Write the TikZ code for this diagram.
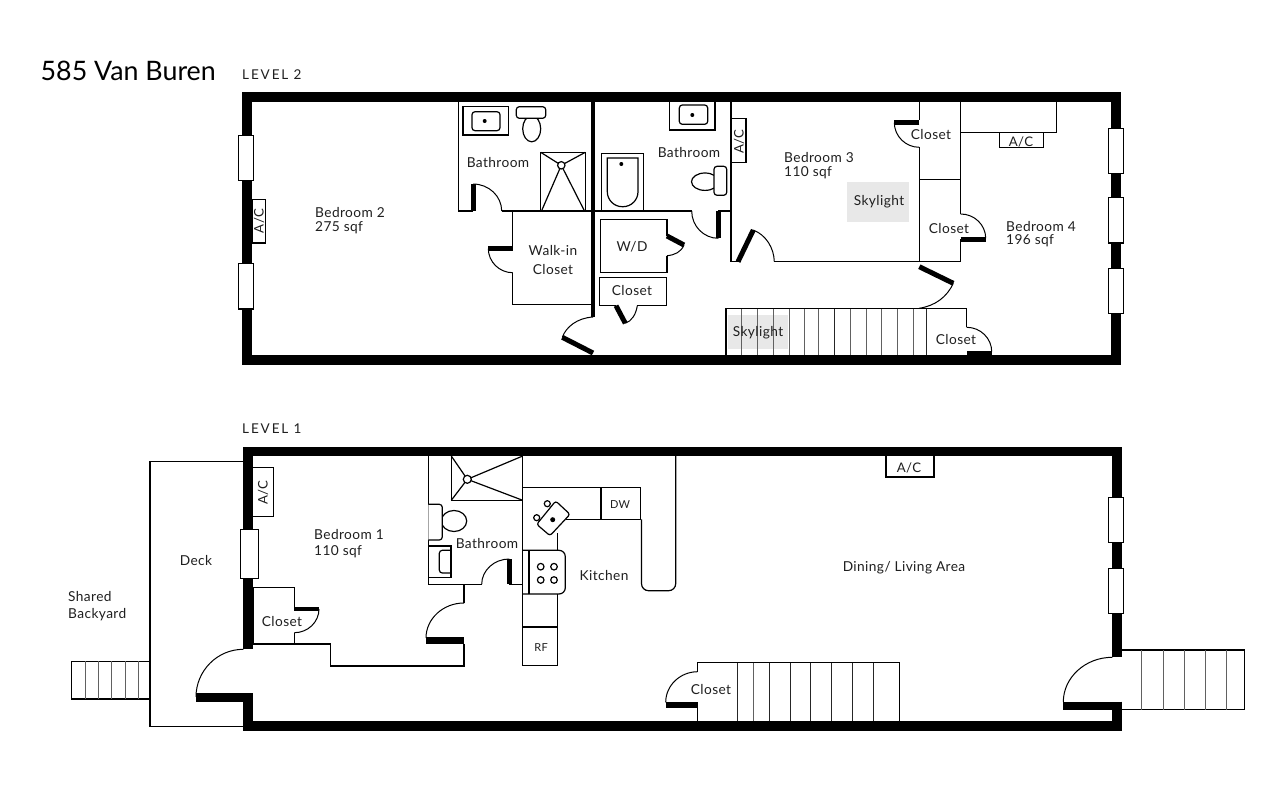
\documentclass[tikz,border=0pt]{standalone}
\usepackage{fontspec}
\setmainfont{Lato}
\newfontfamily\spaced[LetterSpace=14]{Lato}
\newfontfamily\lab[LetterSpace=3]{Lato}
\newcommand{\qarc}[6]{(#1,#2) .. controls ({#1+0.55*(#3-#5)},{#2+0.55*(#4-#6)}) and ({#3+0.55*(#1-#5)},{#4+0.55*(#2-#6)}) .. (#3,#4)}
\tikzset{
 wall/.style={line width=9.5pt,line join=miter,line cap=butt},
 thin/.style={line width=1.2pt,line join=miter,black},
 leaf/.style={line width=5pt},
 swing/.style={line width=1pt},
 tread/.style={line width=1pt,draw=black!62},
 treaddark/.style={line width=1pt,draw=black!85},
 win/.style={line width=1.1pt,fill=white,draw=black},
 sky/.style={fill=black!9,draw=none},
 lbl/.style={font=\lab\fontsize{13.7}{15}\selectfont,inner sep=0pt,text=black!88,yshift=-1pt},
 lblL/.style={lbl,anchor=west},
 small/.style={font=\lab\fontsize{11}{12}\selectfont,inner sep=0pt,text=black!88,yshift=-1pt},
 ac/.style={font=\lab\fontsize{13.2}{14}\selectfont,inner sep=0pt,text=black!88},
 lvl/.style={font=\spaced\fontsize{13.5}{14}\selectfont,inner sep=0pt,anchor=west,text=black!88}
}
\begin{document}
\begin{tikzpicture}[x=1pt,y=-1pt]
\useasboundingbox (0,0) rectangle (1261,800);
\fill[white] (0,0) rectangle (1261,800);
%% texts title
\node[font=\fontsize{26.8}{30}\selectfont,inner sep=0pt,anchor=west] (title) at (40.5,70.5) {585 Van Buren};
\node[lvl] (lv2) at (242,75) {LEVEL 2};
\node[lvl] (lv1) at (242,429) {LEVEL 1};
%% ---------- LEVEL 2 ----------
\fill[sky] (847,182.3) rectangle (909,222.3);
\fill[sky] (728,315) rectangle (787.7,349);
\draw[wall] (247,97) rectangle (1116,360);
% windows
\draw[win] (238.3,135.7) rectangle (253.7,180.7);
\draw[win] (238.3,263.7) rectangle (253.7,309);
\draw[win] (1108.3,128.3) rectangle (1123.7,173.3);
\draw[win] (1108.3,197.7) rectangle (1123.7,243);
\draw[win] (1108.3,268.3) rectangle (1123.7,313.7);
\draw[thin] (252,199.3) rectangle (265.7,243);
% bath 1
\draw[thin] (458.3,101) -- (458.3,211) -- (473,211);
\draw[leaf] (473,211) -- (473,184);
\draw[swing] \qarc{473}{184}{501.7}{211}{473}{211};
\draw[thin] (501.7,211) -- (593,211);
\draw[line width=4pt] (593,101) -- (593,316.7);
\draw[swing] (593,317) .. controls (577,318) and (566,327) .. (562.3,337.3);
\draw[leaf] (593,353) -- (562.3,337.3);
\draw[thin] (463,106.7) rectangle (508.7,135);
\draw[thin,rounded corners=3pt] (472,111.7) -- (500,111.7) -- (500,130.7) -- (472,130.7) -- cycle;
\fill (484.7,121) circle (2);
\draw[thin] (531.7,128.8) ellipse (9 and 13);
\draw[thin,rounded corners=3pt,fill=white] (516.3,106.7) -- (516.3,118.3) -- (545.7,118.3) -- (545.7,106.7) -- cycle;
\draw[thin] (540.7,152.3) rectangle (585.3,211);
\draw[thin] (540.7,152.3) -- (561.3,165.3) (585.3,152.3) -- (561.3,165.3) (541.5,211) -- (561.3,165.3) (584.5,211) -- (561.3,165.3);
\draw[thin,fill=white] (561.3,165.3) circle (3.7);
% walk-in
\draw[thin] (512.7,211) -- (512.7,248.5);
\draw[leaf] (512.7,248.5) -- (488.3,248.5);
\draw[swing] \qarc{488.3}{248.5}{512.7}{272.7}{512.7}{248.5};
\draw[thin] (512.7,272.7) -- (512.7,304.3) -- (593,304.3);
% bath 2
\draw[thin] (593,211) -- (691.7,211);
\draw[swing] \qarc{691.7}{211}{718.3}{238.3}{718.3}{211};
\draw[leaf] (718.3,238.3) -- (718.3,211);
\draw[thin] (718.3,211) -- (731,211);
\draw[thin] (669.7,101) rectangle (715,130);
\draw[thin,rounded corners=3pt] (679.3,105) -- (679.3,124.3) -- (707.7,124.3) -- (707.7,105) -- cycle;
\fill (692.3,115) circle (2);
\draw[thin] (601.7,153.3) rectangle (643.3,211);
\draw[thin] (607.3,158) -- (638,158) [rounded corners=15pt] -- (638,206.7) -- (607.3,206.7) [sharp corners] -- cycle;
\fill (621.3,164) circle (2);
\draw[thin] (705,181.7) ellipse (13.5 and 8.7);
\draw[thin,rounded corners=3pt,fill=white] (726.7,166.3) -- (714,166.3) -- (714,195.3) -- (726.7,195.3) -- cycle;
\draw[thin,fill=white] (731.5,118.3) rectangle (746,162.3);
% W/D
\draw[thin] (667,236) -- (667,219.3) -- (600.3,219.3) -- (600.3,272.7) -- (667,272.7) -- (667,255.7);
\draw[leaf] (667,236) -- (684,245);
\draw[swing] (684,245) .. controls (681,252) and (675,255) .. (667,255.7);
% closet
\draw[thin] (616,305.7) -- (599.7,305.7) -- (599.7,277.3) -- (666.7,277.3) -- (666.7,305.7) -- (637.3,305.7);
\draw[leaf] (616,305.7) -- (625.3,323.3);
\draw[swing] (625.3,323.3) .. controls (632,321) and (636,314) .. (637.3,305.7);
% bedroom 3
\draw[thin] (731,101) -- (731,261.7) -- (738,261.7);
\draw[leaf] (738,261.7) -- (753.3,230);
\draw[swing] (753.3,230) .. controls (766,235) and (774,248) .. (774.3,261.7);
\draw[thin] (774.3,261.7) -- (960.7,261.7);
\draw[thin] (919.3,101) -- (919.3,120);
\draw[leaf] (919.3,122.5) -- (894.3,122.5);
\draw[swing] \qarc{894.3}{122.5}{919.3}{147.3}{919.3}{122.5};
\draw[thin] (919.3,147.3) -- (919.3,261.7);
\draw[thin] (960.7,101) -- (960.7,214);
\draw[thin] (919.3,179.3) -- (960.7,179.3);
\draw[swing] \qarc{960.7}{214}{985.7}{238.3}{960.7}{238.3};
\draw[leaf] (960.7,239) -- (985.7,239);
\draw[thin] (960.7,239) -- (960.7,261.7);
\draw[thin] (960.7,132.3) -- (1056.3,132.3) -- (1056.3,101);
\draw[thin] (999.3,132.3) rectangle (1043.7,147.3);
% stair door
\draw[leaf] (919.3,266.7) -- (953.3,283.3);
\draw[swing] (953.3,283.3) .. controls (947,297) and (935,306) .. (919,308.3);
% stairs L2
\draw[thin] (726,355) -- (726,308.7) -- (966.7,308.7) -- (966.7,327.3);
\foreach \x in {741.7,757.7,773.3,789,804.7,818.7,850,866,881.7,897.3,913.3} \draw[tread] (\x,308.7) -- (\x,355);
\foreach \x in {834.3,926.7} \draw[treaddark] (\x,308.7) -- (\x,355);
\draw[swing] \qarc{966.7}{327.3}{991.7}{351.7}{966.7}{351.7};
\fill (966.7,351) rectangle (991.7,355.5);
%% ---------- LEVEL 1 ----------
\draw[thin] (243.3,461.7) -- (150,461.7) -- (150,726.7) -- (243.3,726.7);
\draw[thin] (150,661.3) -- (71.7,661.3) -- (71.7,699) -- (150,699);
\foreach \x in {85,98.3,111.7,125,138.3} \draw[tread] (\x,661.3) -- (\x,699);
\draw[wall] (248,649.3) -- (248,451.7) -- (1117,451.7) -- (1117,657.3);
\draw[wall] (1117,701.7) -- (1117,726) -- (248,726) -- (248,693.3);
% ext doors
\fill (196,693.3) rectangle (243.3,702.3);
\draw[swing] \qarc{196}{697}{243.3}{649.3}{243.3}{697};
\fill (1063.3,701.7) rectangle (1117,710);
\draw[swing] \qarc{1063.3}{702}{1112.3}{657.3}{1112.3}{702};
% windows
\draw[win] (240.3,529.3) rectangle (258.3,578.3);
\draw[win] (1108.3,497.3) rectangle (1123.7,542.7);
\draw[win] (1108.3,568.3) rectangle (1123.7,613.3);
\draw[thin] (252.7,467.3) rectangle (273.3,516.3);
\draw[thin] (886,456) -- (886,477) -- (934,477) -- (934,456);
% closet
\draw[thin] (253.3,587.3) -- (294.3,587.3) -- (294.3,607);
\fill (294.3,606.7) rectangle (319,611);
\draw[swing] \qarc{319}{609}{294.3}{632.7}{294.3}{609};
\draw[thin] (294.3,632.7) -- (294.3,644);
\draw[thin] (253.3,587.3) -- (253.3,644) -- (330.3,644) -- (330.3,666) -- (464,666) -- (464,644);
\fill (426,637.3) rectangle (464,644);
\draw[swing] \qarc{426}{638}{464}{603}{464}{638};
\draw[thin] (464,603) -- (464,584.3);
% bath L1
\draw[thin] (428.3,456) -- (428.3,584.3) -- (481.7,584.3);
\draw[swing] \qarc{481.7}{584.3}{509.3}{559}{509.3}{584.3};
\draw[leaf] (509.3,559) -- (509.3,584.3);
\draw[thin] (509.3,584.3) -- (522.7,584.3);
\draw[thin] (522.7,456) -- (522.7,665.3) -- (557.7,665.3) -- (557.7,594);
\draw[thin] (451.3,456) -- (451.3,500.3) -- (522.7,500.3);
\draw[thin] (451.3,456) -- (467.3,479.3) (522.7,456) -- (467.3,479.3) (451.3,500.3) -- (467.3,479.3) (522.7,500.3) -- (467.3,479.3);
\draw[thin,fill=white] (467.3,479.3) circle (4);
\draw[thin] (454,521) ellipse (12.7 and 10.5);
\draw[thin,rounded corners=3pt,fill=white] (428.3,504.3) -- (442.3,504.3) -- (442.3,540) -- (428.3,540);
\draw[thin] (428.3,546) -- (451,546) -- (451,577.3) -- (428.3,577.3);
\draw[thin,rounded corners=3pt] (451,550.3) -- (439.3,550.3) -- (439.3,573) -- (451,573);
% kitchen
\draw[thin] (522.7,487.7) -- (640.7,487.7) -- (640.7,519.3) -- (566,519.3);
\draw[thin] (601,487.7) -- (601,519.3);
\draw[thin,rounded corners=7pt] (641.5,519.3) -- (641.5,590.7) -- (675.7,590.7) -- (675.7,456);
\draw[thin,rounded corners=2.5pt,fill=white] (555.7,501) -- (570,514.3) -- (550,535.7) -- (536.7,524.3) -- cycle;
\draw[thin] (547.3,503.7) circle (3);
\draw[thin] (536.7,517.7) circle (3);
\fill (552.7,519.7) circle (2.5);
\draw[thin] (557.7,533) -- (557.7,550.3);
\draw[thin] (529,550.3) -- (529,594);
\draw[thin] (522.7,550.3) -- (559,550.3) .. controls (562.5,550.3) and (565.3,553.1) .. (565.3,556.6) -- (565.3,587.7) .. controls (565.3,591.2) and (562.5,594) .. (559,594) -- (522.7,594);
\foreach \p in {(540.7,566.7),(554,566.7),(540.7,580),(554,580)} \draw[thin] \p circle (3.3);
\draw[thin] (522.7,627) -- (557.7,627);
% stairs bottom
\draw[thin] (697.7,721) -- (697.7,707.7);
\fill (665.7,702.3) rectangle (697.7,707.7);
\draw[swing] \qarc{665.7}{702.3}{697.7}{671.7}{697.7}{702.3};
\draw[thin] (697.7,671.7) -- (697.7,662.7) -- (899.3,662.7) -- (899.3,721);
\foreach \x in {737.3,769.3,790.3,810.3,831.7,852.7,873.7} \draw[treaddark] (\x,662.7) -- (\x,721);
\draw[tread] (753,662.7) -- (753,721);
% right stairs
\draw[thin] (1121.7,650) -- (1244.7,650) -- (1244.7,709.7) -- (1121.7,709.7);
\foreach \x in {1141.7,1163.3,1184.7,1205.7,1226.7} \draw[tread] (\x,650) -- (\x,709.7);
%% ---------- LABELS ----------
\node[lblL] (bed2a) at (315,211.5) {Bedroom 2};
\node[lblL] (bed2b) at (315,226.5) {275 sqf};
\node[lbl] (bath2a) at (498,162) {Bathroom};
\node[lbl] (bath2b) at (689,152) {Bathroom};
\node[lbl] (walk) at (553,250) {Walk-in};
\node[lbl] (walkb) at (553,269) {Closet};
\node[lbl] (wd) at (632,246) {W/D};
\node[lbl] (cl1) at (632,290) {Closet};
\node[ac,rotate=90] (ac1) at (259,221) {A/C};
\node[ac,rotate=90] (ac2) at (739,141.5) {A/C};
\node[ac] (ac3) at (1021,142) {A/C};
\node[lblL] (bed3a) at (784,157) {Bedroom 3};
\node[lblL] (bed3b) at (784,171.5) {110 sqf};
\node[lbl] (sky1) at (879,201) {Skylight};
\node[lbl] (cl2) at (931,134) {Closet};
\node[lbl] (cl3) at (949,228) {Closet};
\node[lblL] (bed4a) at (1006,225.5) {Bedroom 4};
\node[lblL] (bed4b) at (1006,240) {196 sqf};
\node[lbl] (sky2) at (758,332) {Skylight};
\node[lbl] (cl4) at (956,339) {Closet};
\node[lblL] (bed1a) at (314,533) {Bedroom 1};
\node[lblL] (bed1b) at (314,550.5) {110 sqf};
\node[lbl] (deck) at (196,559.5) {Deck};
\node[lblL] (yard) at (68,595.5) {Shared};
\node[lblL] (yardb) at (68,613.5) {Backyard};
\node[ac,rotate=90] (ac4) at (263,492.5) {A/C};
\node[ac] (ac5) at (909,468) {A/C};
\node[lbl] (cl5) at (282,621) {Closet};
\node[lbl] (bath1) at (487,543) {Bathroom};
\node[lbl] (kit) at (604,575) {Kitchen};
\node[small] (dw) at (620,504) {DW};
\node[small] (rf) at (541,647) {RF};
\node[lbl] (din) at (904,567) {Dining/ Living Area};
\node[lbl] (cl6) at (711,689) {Closet};
\end{tikzpicture}
\end{document}
